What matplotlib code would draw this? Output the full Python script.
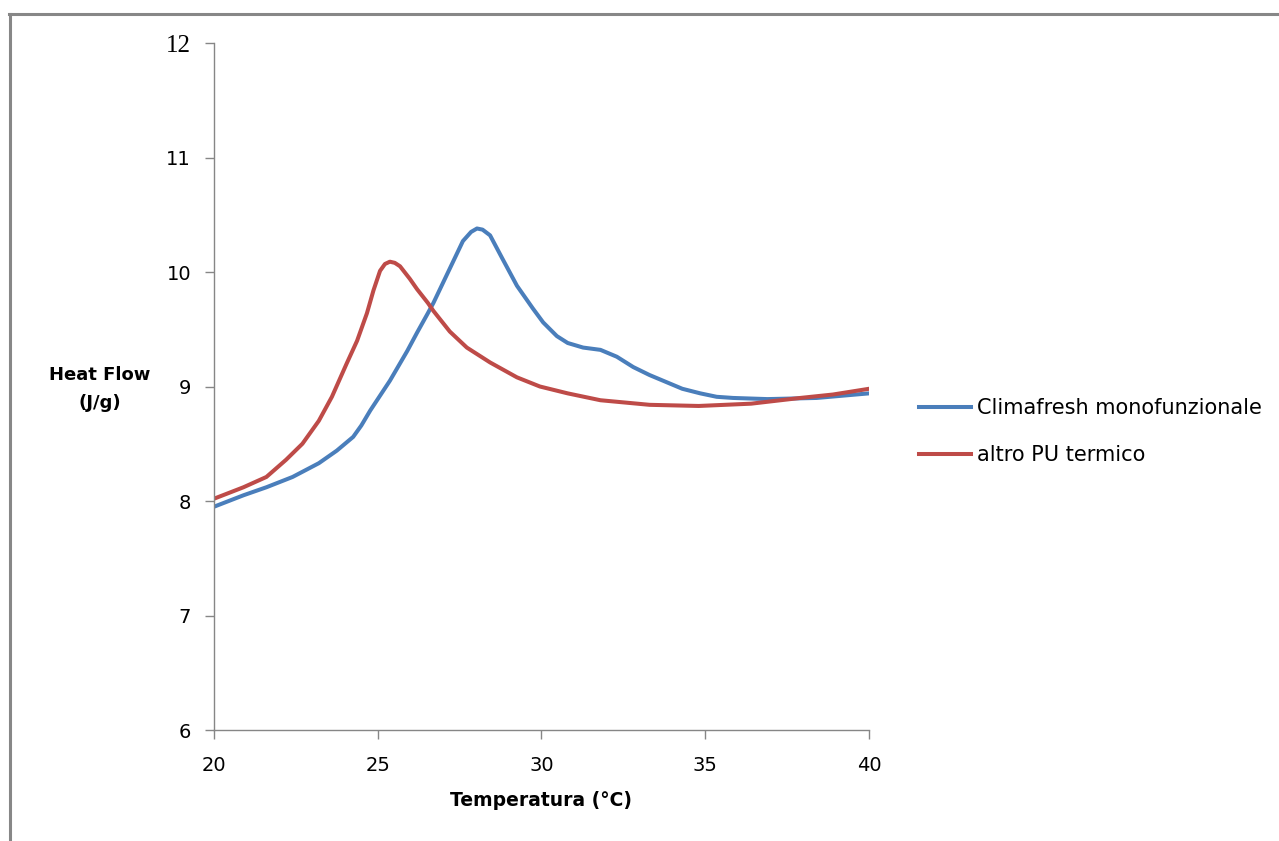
import matplotlib
matplotlib.use("Agg")
import matplotlib.pyplot as plt
from matplotlib.lines import Line2D

# Heat flow curves (temperature in °C, heat flow in J/g)
temp_clima = [20.0, 20.9, 21.6, 22.4, 23.2, 23.75, 24.25, 24.5, 24.77, 25.37, 25.9,
              26.2, 26.53, 26.7, 27.2, 27.6, 27.85, 28.03, 28.2, 28.43, 28.8, 29.25,
              29.74, 30.05, 30.47, 30.8, 31.27, 31.8, 32.3, 32.8, 33.3, 33.8, 34.3,
              34.85, 35.35, 35.85, 36.9, 38.4, 40.0]
flow_clima = [7.95, 8.05, 8.12, 8.21, 8.33, 8.44, 8.56, 8.66, 8.79, 9.05, 9.31,
              9.47, 9.64, 9.73, 10.03, 10.27, 10.35, 10.38, 10.37, 10.32, 10.12, 9.88,
              9.68, 9.56, 9.44, 9.38, 9.34, 9.32, 9.26, 9.17, 9.10, 9.04, 8.98,
              8.94, 8.91, 8.90, 8.89, 8.90, 8.94]

temp_altro = [20.0, 20.9, 21.6, 22.2, 22.7, 23.2, 23.6, 24.05, 24.37, 24.67, 24.87,
              25.07, 25.22, 25.37, 25.52, 25.68, 25.98, 26.2, 26.53, 26.7, 27.2, 27.72,
              28.43, 29.25, 29.95, 30.8, 31.8, 33.3, 34.8, 36.4, 37.9, 38.9, 40.0]
flow_altro = [8.02, 8.12, 8.21, 8.36, 8.50, 8.70, 8.91, 9.20, 9.40, 9.64, 9.84,
              10.01, 10.07, 10.09, 10.08, 10.05, 9.94, 9.85, 9.73, 9.66, 9.48, 9.34,
              9.21, 9.08, 9.00, 8.94, 8.88, 8.84, 8.83, 8.85, 8.90, 8.93, 8.98]

series_labels = ["Climafresh monofunzionale", "altro PU termico"]
x_ticks = [20, 25, 30, 35, 40]
y_ticks = [6, 7, 8, 9, 10, 11, 12]

BLUE = "#4A7EBB"
RED = "#BE4B48"
GRAY = "#868686"

fig = plt.figure(figsize=(12.79, 8.41), dpi=100)
ax = fig.add_axes([214 / 1279, 1 - 730 / 841, (869 - 214) / 1279, (730 - 43) / 841])

ax.plot(temp_clima, flow_clima, color=BLUE, lw=2.9, label=series_labels[0])
ax.plot(temp_altro, flow_altro, color=RED, lw=2.9, label=series_labels[1])

ax.set_xlim(20, 40)
ax.set_ylim(6, 12)
ax.set_xticks(x_ticks)
ax.set_yticks(y_ticks)
for side in ("top", "right"):
    ax.spines[side].set_visible(False)
for side in ("left", "bottom"):
    ax.spines[side].set_color(GRAY)
    ax.spines[side].set_linewidth(1.0)
ax.tick_params(axis="both", direction="out", length=6.5, width=1.0, color=GRAY,
               labelsize=14)
ax.tick_params(axis="y", pad=10)
ax.tick_params(axis="x", pad=12)
# the top label is drawn in a serif face in the original
for lbl in ax.get_yticklabels():
    if lbl.get_text() == "12":
        lbl.set_fontfamily("Liberation Serif")
        lbl.set_fontsize(18)

ax.set_xlabel("Temperatura (°C)", fontsize=13.5, fontweight="bold", labelpad=12)
fig.text(100 / 1279, 1 - 389 / 841, "Heat Flow\n(J/g)", ha="center", va="center",
         fontsize=13, fontweight="bold", multialignment="center", linespacing=1.75)

fig.legend(loc="upper left", bbox_to_anchor=(919 / 1279, 1 - 398 / 841),
           frameon=False, fontsize=15, handlelength=2.5, handletextpad=0.3,
           labelspacing=1.3, borderaxespad=0, borderpad=0)

# outer chart frame (top and left edges visible)
fig.add_artist(Line2D([9.5 / 1279, 9.5 / 1279], [0, 1 - 14 / 841],
                      transform=fig.transFigure, color="#878787", lw=2.2))
fig.add_artist(Line2D([8.5 / 1279, 1], [1 - 14 / 841, 1 - 14 / 841],
                      transform=fig.transFigure, color="#878787", lw=2.2))

fig.savefig("out.png", dpi=100)
